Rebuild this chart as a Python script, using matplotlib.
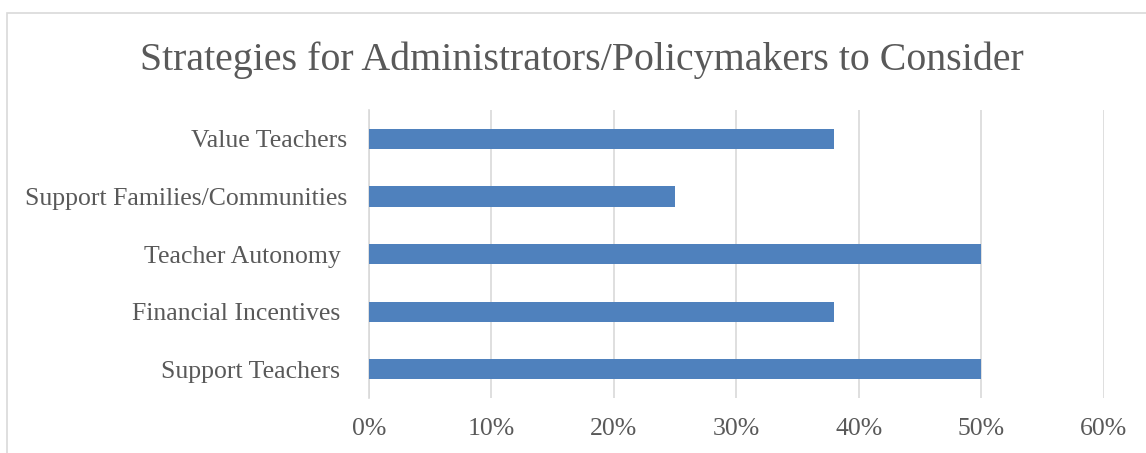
import matplotlib.pyplot as plt
from matplotlib.patches import Rectangle
from matplotlib.ticker import PercentFormatter

categories = ['Support Teachers ', 'Financial Incentives ', 'Teacher Autonomy ',
              'Support Families/Communities', 'Value Teachers']
shares = [0.50, 0.38, 0.50, 0.25, 0.38]
x_ticks = [0, 0.1, 0.2, 0.3, 0.4, 0.5, 0.6]

text_col = '#595959'
grid_col = '#D9D9D9'
bar_col = '#4F81BD'
plt.rcParams['font.family'] = ['Liberation Serif', 'DejaVu Serif']

fig = plt.figure(figsize=(11.46, 4.53), dpi=100)
ax = fig.add_axes([0.322, 0.121, 0.641, 0.636])

ax.barh(range(len(categories)), shares, height=0.35, color=bar_col, zorder=3)
ax.set_yticks(range(len(categories)))
ax.set_yticklabels(categories)
ax.set_ylim(-0.5, len(categories) - 0.5)
ax.set_xlim(0, 0.6)
ax.set_xticks(x_ticks)
ax.xaxis.set_major_formatter(PercentFormatter(1.0, decimals=0))
ax.grid(axis='x', color=grid_col, linewidth=1.2, zorder=0)
ax.tick_params(length=0, labelsize=18.5, colors=text_col)
ax.tick_params(axis='x', pad=14)
ax.tick_params(axis='y', pad=16)
for side in ['top', 'right', 'bottom']:
    ax.spines[side].set_visible(False)
ax.spines['left'].set_color(grid_col)
ax.spines['left'].set_linewidth(1.2)

fig.text(0.508, 0.866, 'Strategies for Administrators/Policymakers to Consider',
         ha='center', va='center', fontsize=28.7, color=text_col)

# outer chart frame
fig.patches.append(Rectangle((7 / 1146, -0.05), 1.0, 1 - 13 / 453 + 0.05,
                             transform=fig.transFigure, fill=False,
                             edgecolor=grid_col, linewidth=1.2))

fig.savefig('out.png', dpi=100)
